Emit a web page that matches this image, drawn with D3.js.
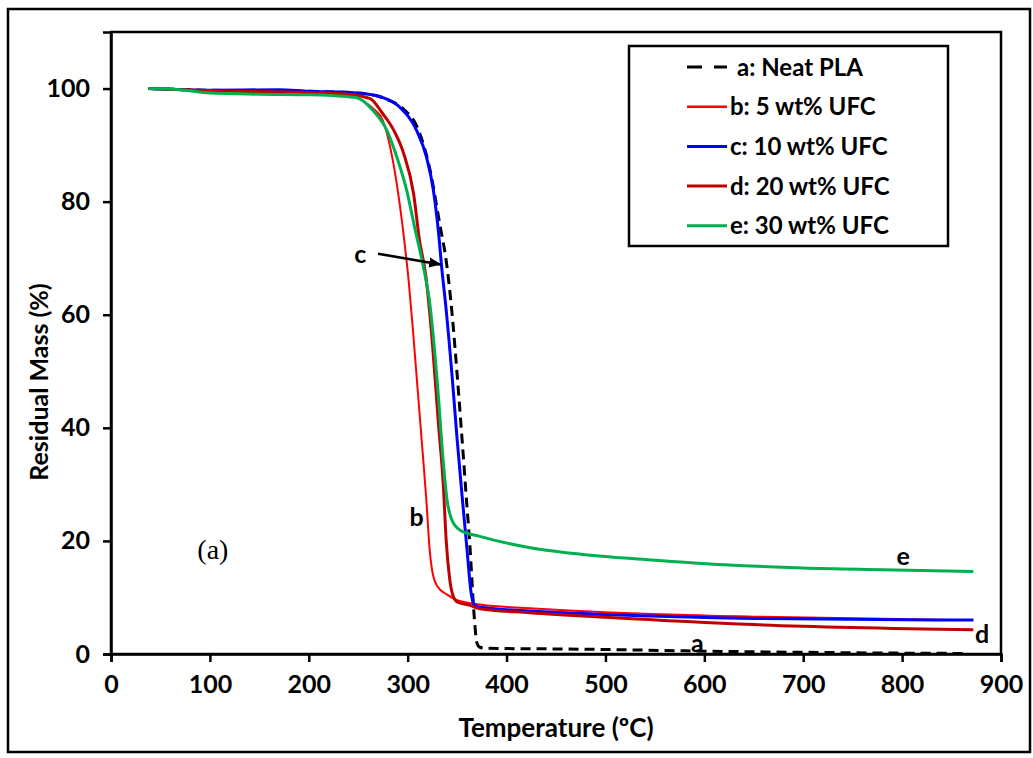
<!DOCTYPE html>
<html>
<head>
<meta charset="utf-8">
<script src="https://cdn.jsdelivr.net/npm/d3@7/dist/d3.min.js"></script>
<style>
  body { margin: 0; background: #fff; }
  text { font-family: Lato, "Open Sans", sans-serif; font-weight: bold; }
</style>
</head>
<body>
<svg id="chart" width="1033" height="758"></svg>
<script>
// TGA curves: temperature (ºC) and residual mass (%)
var tempA = [38, 100, 200, 250, 280, 295, 311, 322, 333, 339, 345, 350, 355, 360, 363, 366, 368, 370, 373, 380, 450, 500, 600, 700, 800, 862]
var massA = [100, 99.7, 99.5, 99.2, 98, 96.5, 92.6, 86.1, 75.5, 69.5, 60, 49.5, 38, 26, 19, 10, 5, 2, 1.2, 1.0, 0.9, 0.8, 0.5, 0.3, 0.15, 0.1]

var tempB = [38, 100, 200, 240, 255, 265, 275, 285, 292, 297, 301, 305, 310, 315, 319, 322, 325, 330, 340, 350, 375, 424, 500, 650, 872]
var massB = [100, 99.6, 99.3, 98.8, 97.8, 96.5, 94.3, 87.3, 79.5, 72.5, 66, 58, 47, 36, 27, 19, 14.5, 12, 10.5, 9.5, 8.7, 8.1, 7.4, 6.6, 6.0]

var tempC = [38, 100, 170, 200, 230, 255, 275, 292, 309, 319, 326, 331, 335, 338, 345, 350, 355, 360, 364, 367, 372, 424, 500, 650, 872]
var massC = [100, 99.7, 99.8, 99.5, 99.4, 99.1, 98.4, 96.7, 92.6, 87.9, 82, 74.9, 67.3, 62.5, 49, 38, 28, 18.5, 11, 8.8, 8.3, 7.6, 7.0, 6.3, 6.0]

var tempD = [38, 100, 200, 240, 262, 275, 286, 296, 306, 312, 318, 325, 331, 336, 339, 342, 345, 350, 363, 373, 424, 500, 650, 872]
var massD = [100, 99.6, 99.3, 99, 98.2, 95.5, 92.6, 88.5, 81.4, 73.1, 67.3, 55, 41, 30, 20, 14, 10.8, 9.2, 8.6, 8.0, 7.3, 6.5, 5.2, 4.3]

var tempE = [38, 70, 100, 150, 200, 230, 248, 265, 279, 289, 299, 307, 317, 322, 330, 336, 340, 344, 348, 353, 373, 424, 477, 550, 620, 700, 780, 872]
var massE = [100, 99.8, 99.2, 99.0, 98.9, 98.7, 98.4, 96.1, 92.6, 87.9, 82, 75.5, 67.5, 62.5, 48, 34, 27, 24, 22.7, 21.9, 20.8, 18.8, 17.6, 16.6, 15.8, 15.2, 14.9, 14.6]

var seriesNames = ["a: Neat PLA", "b: 5 wt% UFC", "c: 10 wt% UFC", "d: 20 wt% UFC", "e: 30 wt% UFC"]
var seriesColors = ["#000000", "#ff0000", "#0000ff", "#c00000", "#00b050"]
var xTicks = [0, 100, 200, 300, 400, 500, 600, 700, 800, 900]
var yTicks = [0, 20, 40, 60, 80, 100]

var W = 1033, H = 758
var margin = {top: 32, right: 32, bottom: 104, left: 111}
var svg = d3.select("#chart")

var x = d3.scaleLinear().domain([0, 900]).range([margin.left, W - margin.right])
var y = d3.scaleLinear().domain([0, 110]).range([H - margin.bottom, margin.top])

// outer frame of the figure
svg.append("rect")
  .attr("x", 8).attr("y", 9).attr("width", 1022).attr("height", 743)
  .attr("fill", "none").attr("stroke", "#000").attr("stroke-width", 2.5)

// plot area border
svg.append("rect")
  .attr("x", x(0)).attr("y", y(110))
  .attr("width", x(900) - x(0)).attr("height", y(0) - y(110))
  .attr("fill", "none").attr("stroke", "#000").attr("stroke-width", 2.5)

var xAxis = svg.append("g")
  .attr("transform", "translate(0," + y(0) + ")")
  .call(d3.axisBottom(x).tickValues(xTicks).tickSize(8).tickPadding(13))
var yAxis = svg.append("g")
  .attr("transform", "translate(" + x(0) + ",0)")
  .call(d3.axisLeft(y).tickValues(yTicks).tickSize(8).tickPadding(13))

;[xAxis, yAxis].forEach(function(g) {
  g.select(".domain").attr("stroke-width", 2.5)
  g.selectAll(".tick line").attr("stroke-width", 2.5)
  g.selectAll(".tick text")
    .style("font-family", "Lato, sans-serif").style("font-weight", "bold")
    .style("font-size", "25px").attr("fill", "#000")
})

// axis titles
svg.append("text")
  .attr("x", (x(0) + x(900)) / 2).attr("y", 737)
  .attr("text-anchor", "middle").style("font-size", "26px")
  .text("Temperature (ºC)")
svg.append("text")
  .attr("transform", "translate(48," + 382 + ") rotate(-90)")
  .attr("text-anchor", "middle").style("font-size", "25px")
  .text("Residual Mass (%)")

var line = d3.line()
  .x(function(d) { return x(d[0]) })
  .y(function(d) { return y(d[1]) })
  .curve(d3.curveMonotoneX)

var series = [
  {temps: tempA, mass: massA, width: 3, dash: "10,6"},
  {temps: tempB, mass: massB, width: 2, dash: null},
  {temps: tempC, mass: massC, width: 3, dash: null},
  {temps: tempD, mass: massD, width: 3, dash: null},
  {temps: tempE, mass: massE, width: 3, dash: null}
]

series.forEach(function(s, i) {
  svg.append("path")
    .datum(d3.zip(s.temps, s.mass))
    .attr("d", line)
    .attr("fill", "none")
    .attr("stroke", seriesColors[i])
    .attr("stroke-width", s.width)
    .attr("stroke-dasharray", s.dash)
})

// legend box
var legend = svg.append("g")
legend.append("rect")
  .attr("x", 629).attr("y", 46).attr("width", 319).attr("height", 200)
  .attr("fill", "#fff").attr("stroke", "#000").attr("stroke-width", 2.5)
seriesNames.forEach(function(name, i) {
  var ly = 67 + i * 39.7
  legend.append("line")
    .attr("x1", 687).attr("x2", 727).attr("y1", ly).attr("y2", ly)
    .attr("stroke", seriesColors[i])
    .attr("stroke-width", series[i].width + (i === 1 ? 0.5 : 0))
    .attr("stroke-dasharray", i === 0 ? "15,12" : null)
  legend.append("text")
    .attr("x", i === 0 ? 737 : 730).attr("y", ly).attr("dy", "0.36em")
    .style("font-size", "24px")
    .text(name)
})

// curve labels
var labels = [
  {t: "c", tx: 252, v: 70.7},
  {t: "b", tx: 309, v: 24.3},
  {t: "e", tx: 801, v: 17.4},
  {t: "d", tx: 881, v: 3.5},
  {t: "a", tx: 593, v: 1.9}
]
labels.forEach(function(l) {
  svg.append("text")
    .attr("x", x(l.tx)).attr("y", y(l.v)).attr("dy", "0.36em")
    .attr("text-anchor", "middle").style("font-size", "25px")
    .text(l.t)
})

svg.append("text")
  .attr("x", x(103)).attr("y", y(18.6)).attr("dy", "0.36em")
  .attr("text-anchor", "middle")
  .style("font-family", "'Liberation Serif', 'DejaVu Serif', serif")
  .style("font-weight", "normal").style("font-size", "28px")
  .text("(a)")

// arrow from label c to curve c
svg.append("defs").append("marker")
  .attr("id", "arrow").attr("viewBox", "0 0 10 10")
  .attr("refX", 9).attr("refY", 5)
  .attr("markerWidth", 5).attr("markerHeight", 5)
  .attr("orient", "auto")
  .append("path").attr("d", "M0,1 L10,5 L0,9 Z").attr("fill", "#000")
svg.append("line")
  .attr("x1", x(270)).attr("y1", y(70.8))
  .attr("x2", x(333)).attr("y2", y(68.9))
  .attr("stroke", "#000").attr("stroke-width", 2.5)
  .attr("marker-end", "url(#arrow)")
</script>
</body>
</html>
